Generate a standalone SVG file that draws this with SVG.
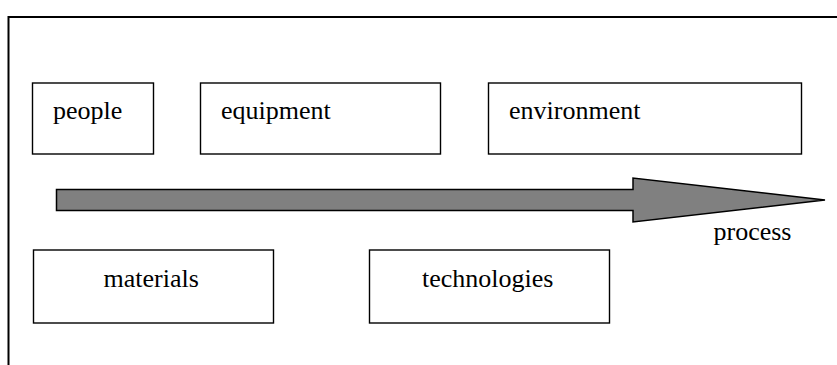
<svg xmlns="http://www.w3.org/2000/svg" width="837" height="365" viewBox="0 0 837 365">
<style>
.box{fill:#fff;stroke:#000;stroke-width:1.4}
.frame{fill:none;stroke:#000;stroke-width:2}
.arrow{fill:#808080;stroke:#000;stroke-width:1.5;stroke-linejoin:miter}
</style>
<rect width="837" height="365" fill="#fff"/>
<path class="frame" d="M8.5,365 V17 H837"/>
<g id="people"><rect class="box" x="32.5" y="83" width="121" height="71"/><text x="53" y="119" font-family="Liberation Serif" font-size="26">people</text></g>
<g id="equipment"><rect class="box" x="200.5" y="83" width="240" height="71"/><text x="221" y="119" font-family="Liberation Serif" font-size="26">equipment</text></g>
<g id="environment"><rect class="box" x="488.5" y="83" width="313" height="71"/><text x="509" y="119" font-family="Liberation Serif" font-size="26">environment</text></g>
<g id="materials"><rect class="box" x="33.5" y="250" width="240" height="73"/><text x="103.5" y="287" font-family="Liberation Serif" font-size="26">materials</text></g>
<g id="technologies"><rect class="box" x="369.5" y="250" width="240" height="73"/><text x="422" y="287" font-family="Liberation Serif" font-size="26">technologies</text></g>
<g id="connectors">
<path id="process-arrow" class="arrow" d="M56.5,189.5 H633 V178 L825,200 L633,222 V210.5 H56.5 Z"/>
<text x="713.5" y="240" font-family="Liberation Serif" font-size="26">process</text>
</g>
</svg>
